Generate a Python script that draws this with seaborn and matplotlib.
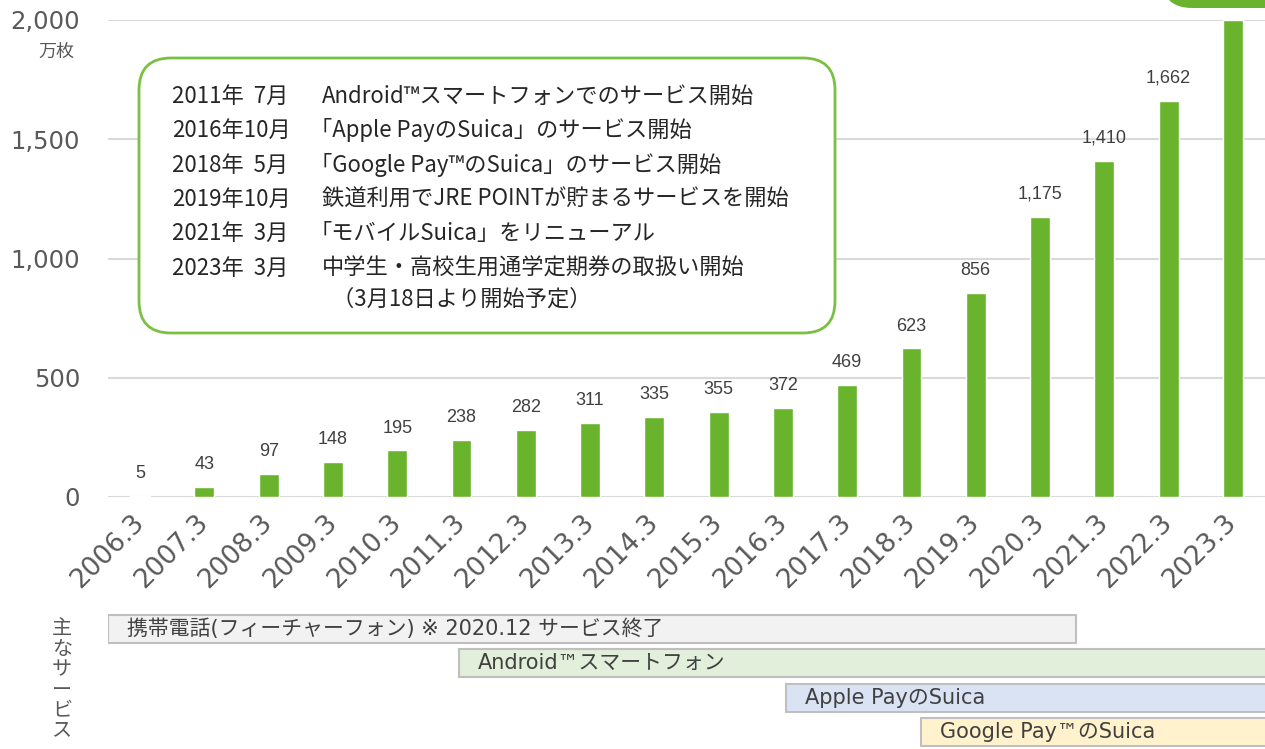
import numpy as np
import pandas as pd
import matplotlib.pyplot as plt
import seaborn as sns
from matplotlib.patches import FancyBboxPatch

# 発行枚数（万枚）
periods = ['2006.3', '2007.3', '2008.3', '2009.3', '2010.3', '2011.3', '2012.3', '2013.3', '2014.3',
           '2015.3', '2016.3', '2017.3', '2018.3', '2019.3', '2020.3', '2021.3', '2022.3', '2023.3']
issued = [5, 43, 97, 148, 195, 238, 282, 311, 335, 355, 372, 469, 623, 856, 1175, 1410, 1662, 2000]
show_label = [True] * 17 + [False]

# 年表
hist_dates = ['2011年  7月', '2016年10月', '2018年  5月', '2019年10月', '2021年  3月', '2023年  3月', '']
hist_texts = ['Android™スマートフォンでのサービス開始',
              '「Apple PayのSuica」のサービス開始',
              '「Google Pay™のSuica」のサービス開始',
              '鉄道利用でJRE POINTが貯まるサービスを開始',
              '「モバイルSuica」をリニューアル',
              '中学生・高校生用通学定期券の取扱い開始',
              '  （3月18日より開始予定）']

# 主なサービス（棒グラフのカテゴリ位置で開始・終了）
svc_names = ['携帯電話(フィーチャーフォン) ※ 2020.12 サービス終了', 'Android™スマートフォン',
             'Apple PayのSuica', 'Google Pay™のSuica']
svc_start = [-0.5, 4.96, 10.05, 12.15]
svc_end = [14.56, 18.0, 18.0, 18.0]
svc_colors = ['#f2f2f2', '#e2efda', '#dae3f3', '#fff2cc']

sns.set_theme(style='white')
plt.rcParams['font.family'] = ['Noto Sans CJK JP', 'DejaVu Sans']

W, H = 1265, 749
fig = plt.figure(figsize=(W / 100, H / 100), dpi=100)

# main bar chart
ax = fig.add_axes([108 / W, 1 - 497 / H, (W - 108) / W, (497 - 20) / H])
df = pd.DataFrame({'period': periods, 'issued': issued})
sns.barplot(data=df, x='period', y='issued', color='#6ab42d', saturation=1, width=0.31, ax=ax)
ax.set_xlim(-0.5, 17.5)
ax.set_ylim(0, 2000)
ax.set_yticks([0, 500, 1000, 1500, 2000])
ax.set_yticklabels(['{:,}'.format(v) for v in [0, 500, 1000, 1500, 2000]],
                   fontsize=17.5, color='#595959', family='DejaVu Sans')
ax.grid(axis='y', color='#d9d9d9', linewidth=1.5)
ax.set_axisbelow(True)
for s in ax.spines.values():
    s.set_visible(False)
ax.tick_params(axis='y', length=0, pad=20)
ax.tick_params(axis='x', length=0, pad=16)
ax.set_xlabel('')
ax.set_ylabel('')
plt.setp(ax.get_xticklabels(), rotation=45, ha='right', va='center', rotation_mode='anchor',
         fontsize=19, color='#595959', family='DejaVu Sans')
for i, v in enumerate(issued):
    if show_label[i]:
        ax.annotate('{:,}'.format(v), (i, v), xytext=(0, 10), textcoords='offset points',
                    ha='center', va='bottom', fontsize=13, color='#404040', family='Liberation Sans')
fig.text(56 / W, 1 - 52 / H, '万枚', ha='center', va='center', fontsize=13, color='#595959')

# service timeline
ax2 = fig.add_axes([108 / W, 0, (W - 108) / W, 137 / H])
ax2.barh(range(len(svc_names)), np.array(svc_end) - np.array(svc_start), left=svc_start,
         height=0.82, color=svc_colors, edgecolor='#bfbfbf', linewidth=1.5)
for i, name in enumerate(svc_names):
    ax2.text(svc_start[i] + 0.3, i, name, ha='left', va='center', fontsize=15, color='#404040',
             family=['DejaVu Sans', 'Noto Sans CJK JP'])
ax2.set_xlim(-0.5, 17.5)
ax2.set_ylim(3.5, -0.5)
ax2.axis('off')
fig.text(62 / W, 1 - 618 / H, '\n'.join('主なサービス'), ha='center', va='top',
         fontsize=14.5, color='#595959', linespacing=0.97)

# overlay for callouts
ov = fig.add_axes([0, 0, 1, 1], zorder=5)
ov.set_xlim(0, W)
ov.set_ylim(H, 0)
ov.axis('off')
ov.patch.set_alpha(0)
ov.add_patch(FancyBboxPatch((139, 58), 696, 275, boxstyle='round,pad=0,rounding_size=32',
                            facecolor='white', edgecolor='#7ac143', linewidth=2))
ov.add_patch(FancyBboxPatch((1162, -60), 160, 68, boxstyle='round,pad=0,rounding_size=30',
                            facecolor='#6ab42d', edgecolor='none'))
ys = [96, 130, 165, 199, 233, 268, 299]
for y, d, t in zip(ys, hist_dates, hist_texts):
    ov.text(172, y, d, ha='left', va='center', fontsize=16, color='#262626')
    x0 = 310 if t.startswith('「') else 322
    ov.text(x0, y, t, ha='left', va='center', fontsize=16, color='#262626')

fig.savefig('out.png', dpi=100)
